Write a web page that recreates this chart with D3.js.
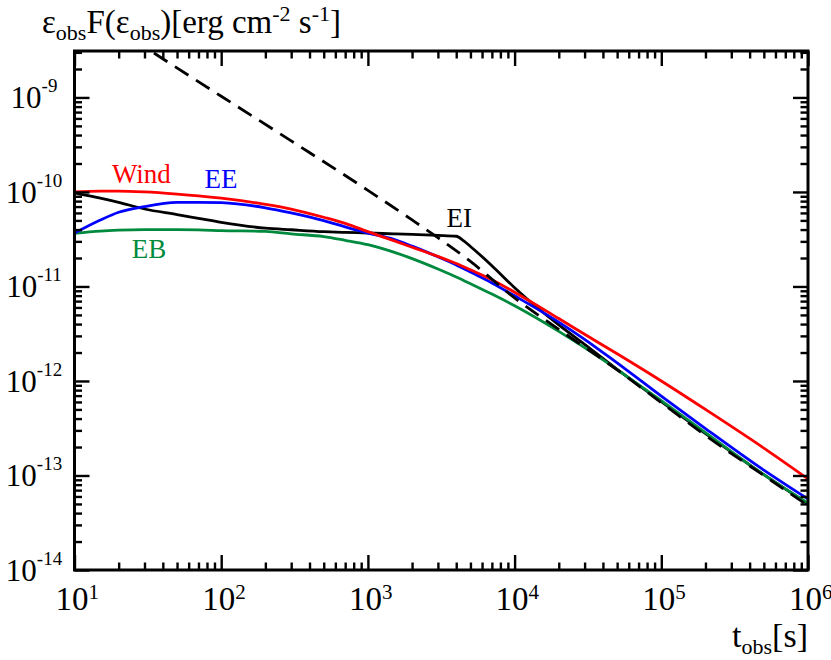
<!DOCTYPE html>
<html>
<head>
<meta charset="utf-8">
<script src="https://cdn.jsdelivr.net/npm/d3@7"></script>
<style>
  body { margin: 0; background: #fff; }
  svg { font-family: "Liberation Serif", "Times New Roman", serif; }
</style>
</head>
<body>
<script>
var width = 831;
var height = 660;
var plotLeft = 74.5, plotRight = 808, plotTop = 51, plotBottom = 570;

// data (t in s, flux in erg cm^-2 s^-1)
var tGrid = [10, 15, 20, 30, 50, 70, 100, 200, 300, 500, 700, 1000, 1500, 2000, 3000,
             4000, 5000, 7000, 1e4, 2e4, 3e4, 5e4, 1e5, 2e5, 5e5, 1e6];
var windF = [1.0e-10, 1.02e-10, 1.02e-10, 1.0e-10, 9.5e-11, 9.1e-11, 8.6e-11, 7.4e-11, 6.6e-11,
             5.4e-11, 4.65e-11, 3.8e-11, 3.05e-11, 2.6e-11, 2.08e-11, 1.75e-11, 1.5e-11, 1.18e-11,
             8.7e-12, 4.58e-12, 3.12e-12, 1.94e-12, 1.0e-12, 5.0e-13, 1.95e-13, 9.2e-14];
var eeF = [3.67e-11, 5.05e-11, 6.1e-11, 7.0e-11, 7.74e-11, 7.77e-11, 7.7e-11, 6.8e-11, 6.0e-11,
           4.97e-11, 4.27e-11, 3.67e-11, 3.15e-11, 2.67e-11, 2.06e-11, 1.69e-11, 1.42e-11, 1.09e-11,
           7.96e-12, 4.2e-12, 2.76e-12, 1.55e-12, 6.93e-13, 3.14e-13, 1.14e-13, 5.64e-14];
var ebF = [3.65e-11, 3.86e-11, 3.94e-11, 3.99e-11, 3.99e-11, 3.97e-11, 3.9e-11, 3.82e-11, 3.6e-11,
           3.37e-11, 3.08e-11, 2.77e-11, 2.31e-11, 1.97e-11, 1.53e-11, 1.26e-11, 1.07e-11, 8.3e-12,
           6.25e-12, 3.35e-12, 2.25e-12, 1.32e-12, 6.18e-13, 2.84e-13, 1.02e-13, 5.1e-14];
var eiT = [10, 15, 20, 30, 50, 70, 100, 200, 300, 500, 700, 1000, 1500, 2000, 3000, 4000, 4500,
           5000, 7000, 1e4, 1.5e4, 2e4, 3e4, 5e4, 1e5, 2e5, 5e5, 1e6];
var eiF = [9.8e-11, 8.6e-11, 7.76e-11, 6.6e-11, 5.77e-11, 5.26e-11, 4.77e-11, 4.14e-11, 3.98e-11,
           3.8e-11, 3.73e-11, 3.68e-11, 3.6e-11, 3.55e-11, 3.47e-11, 3.4e-11, 3.03e-11, 2.65e-11,
           1.66e-11, 9.7e-12, 5.6e-12, 3.92e-12, 2.44e-12, 1.33e-12, 6.05e-13, 2.78e-13, 1.02e-13, 5.0e-14];
var dashT = [25, 100, 300, 1000, 2000, 3000, 5000, 1e4, 2e4, 5e4, 1e5, 2e5, 5e5, 1e6];
var dashF = [4.1e-9, 1.03e-9, 3.47e-10, 1.04e-10, 5.06e-11, 3.28e-11, 1.84e-11, 7.55e-12,
             3.52e-12, 1.31e-12, 5.9e-13, 2.65e-13, 1.0e-13, 4.8e-14];

var xExp = [1, 2, 3, 4, 5, 6];
var yExp = [-14, -13, -12, -11, -10, -9];

var svg = d3.select("body").append("svg").attr("width", width).attr("height", height);

var x = d3.scaleLog().domain([10, 1e6]).range([plotLeft, plotRight]);
var y = d3.scaleLog().domain([1e-14, 3.1e-9]).range([plotBottom, plotTop]);

svg.append("clipPath").attr("id", "plot")
    .append("rect").attr("x", plotLeft).attr("y", plotTop)
    .attr("width", plotRight - plotLeft).attr("height", plotBottom - plotTop);

var line = d3.line()
    .x(function (d) { return x(d[0]); })
    .y(function (d) { return y(d[1]); })
    .curve(d3.curveMonotoneX);

function pairs(ts, fs) { return ts.map(function (t, i) { return [t, fs[i]]; }); }

// EI solid goes under the coloured lines, dashed on top
var curves = [
    { t: eiT, f: eiF, color: "#000000", dash: null },
    { t: tGrid, f: ebF, color: "#008a3e", dash: null },
    { t: tGrid, f: eeF, color: "#0000ff", dash: null },
    { t: tGrid, f: windF, color: "#ff0000", dash: null },
    { t: dashT, f: dashF, color: "#000000", dash: "16,9" }
];

var g = svg.append("g").attr("clip-path", "url(#plot)");
curves.forEach(function (c) {
    g.append("path")
        .attr("d", line(pairs(c.t, c.f)))
        .attr("fill", "none")
        .attr("stroke", c.color)
        .attr("stroke-width", 2.8)
        .attr("stroke-dasharray", c.dash);
});

// ticks
var xMajor = xExp.map(function (e) { return Math.pow(10, e); });
var yMajor = yExp.map(function (e) { return Math.pow(10, e); });
var xMinor = [], yMinor = [];
xExp.slice(0, -1).forEach(function (e) {
    for (var k = 2; k <= 9; k++) xMinor.push(k * Math.pow(10, e));
});
yExp.forEach(function (e) {
    for (var k = 2; k <= 9; k++) {
        var v = k * Math.pow(10, e);
        if (v <= 3.1e-9) yMinor.push(v);
    }
});

function drawAxis(axisFn, scale, values, size, transform) {
    var a = svg.append("g").attr("transform", transform)
        .call(axisFn(scale).tickValues(values).tickSize(-size).tickFormat(""));
    a.select(".domain").remove();
    a.selectAll("line").attr("stroke", "#000").attr("stroke-width", 2.4);
}
drawAxis(d3.axisBottom, x, xMajor, 15, "translate(0," + plotBottom + ")");
drawAxis(d3.axisBottom, x, xMinor, 7.5, "translate(0," + plotBottom + ")");
drawAxis(d3.axisTop, x, xMajor, 15, "translate(0," + plotTop + ")");
drawAxis(d3.axisTop, x, xMinor, 7.5, "translate(0," + plotTop + ")");
drawAxis(d3.axisLeft, y, yMajor, 15, "translate(" + plotLeft + ",0)");
drawAxis(d3.axisLeft, y, yMinor, 7.5, "translate(" + plotLeft + ",0)");
drawAxis(d3.axisRight, y, yMajor, 15, "translate(" + plotRight + ",0)");
drawAxis(d3.axisRight, y, yMinor, 7.5, "translate(" + plotRight + ",0)");

svg.append("rect")
    .attr("x", plotLeft).attr("y", plotTop)
    .attr("width", plotRight - plotLeft).attr("height", plotBottom - plotTop)
    .attr("fill", "none").attr("stroke", "#000").attr("stroke-width", 3);

// tick labels
xExp.forEach(function (e) {
    var t = svg.append("text")
        .attr("x", x(Math.pow(10, e)) - 19).attr("y", 610)
        .attr("font-size", 33).attr("fill", "#000");
    t.append("tspan").text("10");
    t.append("tspan").attr("dy", -11).attr("font-size", 21).text(e);
});
yExp.forEach(function (e) {
    var t = svg.append("text")
        .attr("x", 34).attr("y", y(Math.pow(10, e)) + 11)
        .attr("text-anchor", "middle")
        .attr("font-size", 31).attr("fill", "#000");
    t.append("tspan").text("10");
    t.append("tspan").attr("dy", -16).attr("font-size", 19).text("-" + Math.abs(e));
});

// axis titles
var yt = svg.append("text").attr("x", 42).attr("y", 33).attr("font-size", 33).attr("fill", "#000");
yt.append("tspan").text("\u03b5");
yt.append("tspan").attr("dy", 7).attr("font-size", 22).text("obs");
yt.append("tspan").attr("dy", -7).text("F(\u03b5");
yt.append("tspan").attr("dy", 7).attr("font-size", 22).text("obs");
yt.append("tspan").attr("dy", -7).text(")[erg cm");
yt.append("tspan").attr("dy", -12).attr("font-size", 22).text("-2");
yt.append("tspan").attr("dy", 12).text(" s");
yt.append("tspan").attr("dy", -12).attr("font-size", 22).text("-1");
yt.append("tspan").attr("dy", 12).text("]");

var xt = svg.append("text").attr("x", 808).attr("y", 647).attr("text-anchor", "end")
    .attr("font-size", 34).attr("fill", "#000");
xt.append("tspan").text("t");
xt.append("tspan").attr("dy", 7).attr("font-size", 22).text("obs");
xt.append("tspan").attr("dy", -7).text("[s]");

// curve labels
var labels = [
    { text: "Wind", t: 18, f: 1.25e-10, color: "#ff0000" },
    { text: "EE", t: 77, f: 1.1e-10, color: "#0000ff" },
    { text: "EB", t: 24.6, f: 2.0e-11, color: "#008a3e" },
    { text: "EI", t: 3440, f: 4.3e-11, color: "#000000" }
];
svg.selectAll("text.lbl").data(labels).enter().append("text")
    .attr("class", "lbl")
    .attr("x", function (d) { return x(d.t); })
    .attr("y", function (d) { return y(d.f); })
    .attr("font-size", 27)
    .attr("fill", function (d) { return d.color; })
    .text(function (d) { return d.text; });
</script>
</body>
</html>
